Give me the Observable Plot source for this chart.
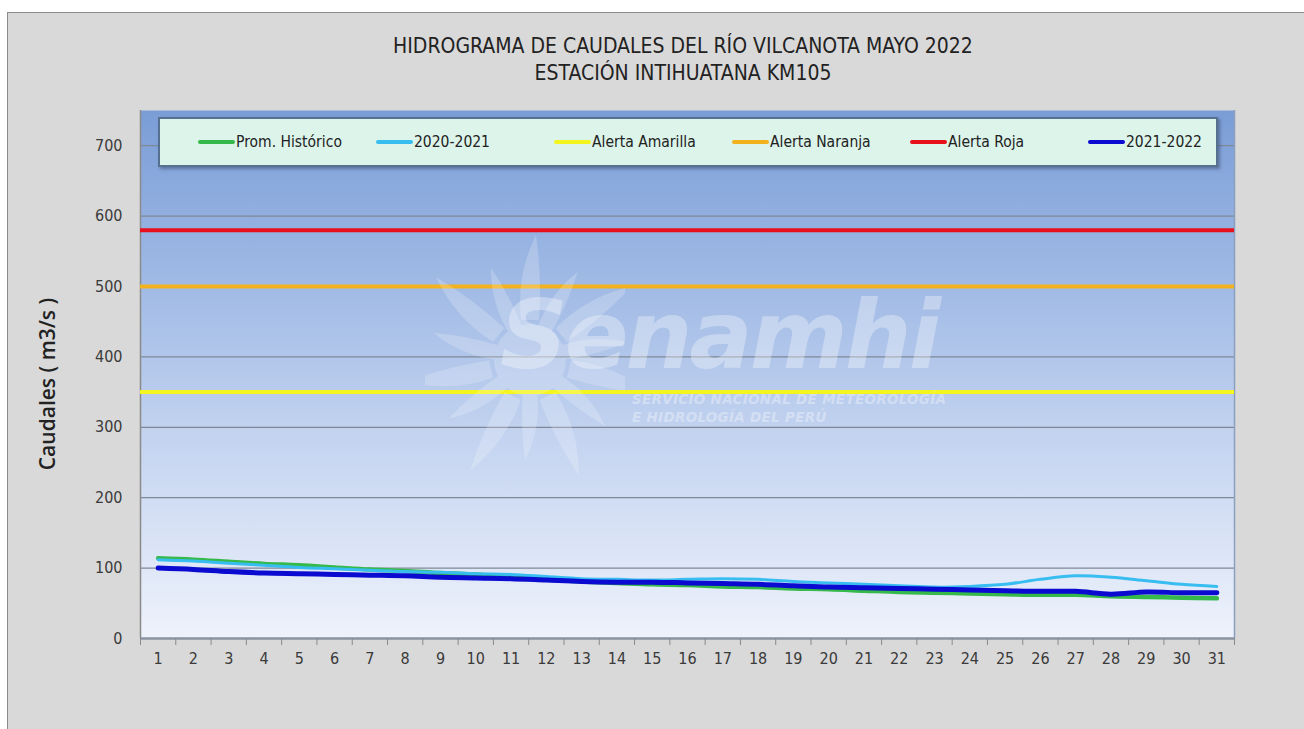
<!DOCTYPE html>
<html><head><meta charset="utf-8">
<script src="https://cdn.jsdelivr.net/npm/d3@7"></script>
<script src="https://cdn.jsdelivr.net/npm/@observablehq/plot@0.6"></script>
<style>
body{margin:0;background:#fff;width:1304px;height:729px;overflow:hidden;position:relative;font-family:"Liberation Sans Narrow","DejaVu Sans Condensed",sans-serif;}
#box{position:absolute;left:7px;top:12px;width:1310px;height:730px;background:#d9d9d9;border:1px solid #8c8c8c;box-sizing:border-box;}
#title{position:absolute;left:0;top:33px;width:1366px;text-align:center;font-size:21px;line-height:27px;color:#222;}
#chart{position:absolute;left:0;top:90px;}
#ylabel{position:absolute;left:47px;top:384px;transform:translate(-50%,-50%) rotate(-90deg);white-space:nowrap;font-family:"Open Sans",sans-serif;font-size:21px;font-weight:600;color:#222;}
#legend{position:absolute;left:158px;top:117px;width:1060px;height:50px;box-sizing:border-box;background:#dcf4ea;border:2px solid #56708f;box-shadow:2px 2px 3px rgba(40,50,80,0.45);display:grid;grid-template-columns:repeat(6,178px);padding-left:38px;align-items:center;}
.item{display:flex;align-items:center;font-size:15.5px;color:#222;white-space:nowrap;}
.sw{width:37px;height:4px;border-radius:2px;margin-right:1px;}
#wm{position:absolute;left:500px;top:282px;color:#fff;opacity:0.33;font-family:"DejaVu Sans",sans-serif;font-weight:bold;font-style:italic;pointer-events:none;}
#wm .big{font-size:94px;letter-spacing:-3px;line-height:108px;}
#wm .small{font-size:13.5px;line-height:18px;margin-left:132px;letter-spacing:0.3px;}
#sun{position:absolute;left:425px;top:210px;opacity:0.2;pointer-events:none;}
</style></head>
<body>
<div id="box"></div>
<div id="title">HIDROGRAMA DE CAUDALES DEL RÍO VILCANOTA MAYO 2022<br>ESTACIÓN INTIHUATANA KM105</div>
<div id="chart"></div>
<svg id="sun" width="200" height="300" viewBox="0 0 200 300"></svg>
<div id="wm"><div class="big">Senamhi</div><div class="small">SERVICIO NACIONAL DE METEOROLOGÍA<br>E HIDROLOGÍA DEL PERÚ</div></div>
<div id="legend"></div>
<div id="ylabel">Caudales ( m3/s )</div>
<script>
// ---- data ----
const days = d3.range(1, 32);
const historico = [114,112,109,106,104,101,98,96,93,91,88,84,81,79,77,76,74,73,71,70,68,66,65,64,63,62,62,60,59,58,57];
const serie2020_2021 = [112,110,107,104,101,99,97,95,94,92,91,88,85,84,83,84,85,84,81,79,77,75,73,74,77,84,89,87,82,77,74];
const serie2021_2022 = [100,98,95,93,92,91,90,89,87,86,85,83,81,80,80,79,78,77,75,73,72,71,70,69,68,67,67,63,66,65,65];
const alertNames = ["Alerta Amarilla", "Alerta Naranja", "Alerta Roja"];
const alertValues = [350, 500, 580];
const yTicks = [0, 100, 200, 300, 400, 500, 600, 700];
const legendNames = ["Prom. Histórico", "2020-2021", "Alerta Amarilla", "Alerta Naranja", "Alerta Roja", "2021-2022"];

// ---- styles ----
const colors = {
  "Prom. Histórico": "#35b94a",
  "2020-2021": "#38bdf0",
  "Alerta Amarilla": "#f4f41e",
  "Alerta Naranja": "#f2b21e",
  "Alerta Roja": "#e8111b",
  "2021-2022": "#0a0ad0"
};
const widths = {"Prom. Histórico": 4.5, "2020-2021": 3, "Alerta Amarilla": 4, "Alerta Naranja": 4, "Alerta Roja": 4, "2021-2022": 5};

const toRows = arr => arr.map((v, i) => ({day: days[i], value: v}));
const lineOf = (name, arr) => Plot.line(toRows(arr), {x: "day", y: "value", stroke: colors[name], strokeWidth: widths[name], curve: "catmull-rom"});

const chart = Plot.plot({
  width: 1304, height: 600,
  marginLeft: 140, marginRight: 70, marginTop: 20, marginBottom: 52,
  style: {background: "transparent", fontFamily: '"Liberation Sans Narrow","DejaVu Sans Condensed",sans-serif', fontSize: "16px", color: "#3a3a3a"},
  x: {type: "linear", domain: [0.5, days.length + 0.5], axis: null},
  y: {domain: [0, 750], axis: null},
  marks: [
    Plot.frame({fill: "#c0d0ee", stroke: "none"}),
    Plot.gridY(yTicks.slice(1), {stroke: "#7f8896", strokeOpacity: 1, strokeWidth: 1.2}),
    Plot.ruleX([days.length + 0.5], {stroke: "#8aa0c0", strokeWidth: 1.5}),
    Plot.ruleX([0.5], {stroke: "#8a8a8a", strokeWidth: 1.5}),
    Plot.ruleY([0], {stroke: "#8a93a3", strokeWidth: 2.5}),
    Plot.axisY(yTicks, {tickSize: 0, tickPadding: 18, fontSize: 16, fill: "#3a3a3a", label: null}),
    Plot.axisX(days, {tickSize: 0, tickPadding: 14, fontSize: 16, fill: "#3a3a3a", tickFormat: d => String(d), label: null}),
    Plot.axisX(d3.range(0.5, days.length + 1), {tickSize: 7, stroke: "#8a8a8a", tickFormat: () => "", label: null}),
    lineOf("Prom. Histórico", historico),
    lineOf("2020-2021", serie2020_2021),
    ...alertNames.map((n, i) => Plot.ruleY([alertValues[i]], {stroke: colors[n], strokeWidth: widths[n]})),
    lineOf("2021-2022", serie2021_2022)
  ]
});

// gradient background for plot area
const svg = d3.select(chart);
const grad = svg.insert("defs", ":first-child").append("linearGradient")
  .attr("id", "bggrad").attr("x1", 0).attr("y1", 0).attr("x2", 0).attr("y2", 1);
[["0%", "#7a9dd6"], ["35%", "#a3bce6"], ["65%", "#c7d6f1"], ["100%", "#eef2fb"]]
  .forEach(([o, c]) => grad.append("stop").attr("offset", o).attr("stop-color", c));
let fr = svg.select('[aria-label="frame"]');
if (fr.node() && fr.node().tagName.toLowerCase() !== "rect") fr = fr.select("rect");
fr.attr("fill", "url(#bggrad)");

document.getElementById("chart").appendChild(chart);

// watermark sun (decorative)
const sun = d3.select("#sun");
const sg = sun.append("g").attr("transform", "translate(105,150)").attr("fill", "#fff");
d3.range(14).forEach(k => {
  const a = k * 360 / 14;
  sg.append("path").attr("d", "M-9,-40 Q-14,-85 6,-125 Q12,-85 9,-40 Z")
    .attr("transform", `rotate(${a}) scale(${k % 2 ? 0.8 : 1})`);
});
sg.append("circle").attr("r", 36);

// legend
const leg = d3.select("#legend");
legendNames.forEach(n => {
  const it = leg.append("div").attr("class", "item");
  it.append("div").attr("class", "sw").style("background", colors[n]);
  it.append("span").text(n);
});
</script>
</body></html>
